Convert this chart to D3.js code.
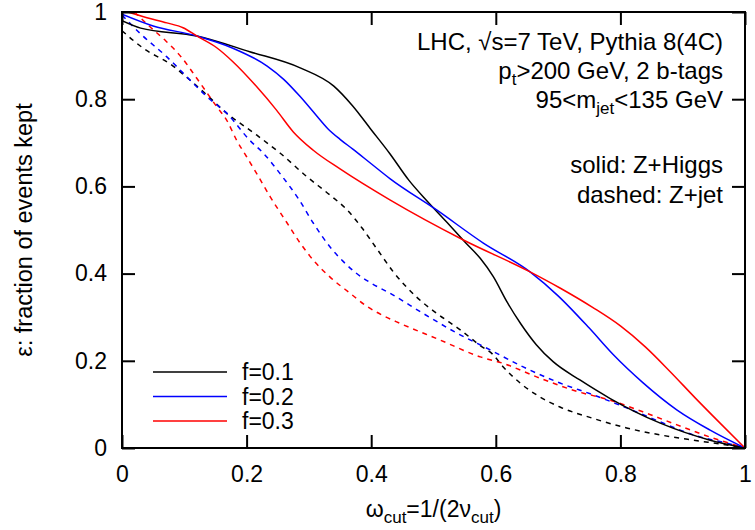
<!DOCTYPE html>
<html>
<head>
<meta charset="utf-8">
<script src="https://cdn.jsdelivr.net/npm/d3@7"></script>
<style>
  body { margin: 0; background: white; }
  text { font-family: "Liberation Sans", Arial, sans-serif; }
</style>
</head>
<body>
<div id="d3-container"></div>
<script>
// ticks
var xTicks = [0, 0.2, 0.4, 0.6, 0.8, 1]
var yTicks = [0, 0.2, 0.4, 0.6, 0.8, 1]

// legend labels
var fLabels = ['f=0.1', 'f=0.2', 'f=0.3']

// Z+Higgs (solid), [omega_cut, eps]
var higgsF01 = [[0,0.98],[0.03,0.963],[0.12,0.945],[0.205,0.909],[0.286,0.872],[0.34,0.83],[0.37,0.785],[0.40,0.73],[0.43,0.675],[0.46,0.615],[0.49,0.566],[0.52,0.52],[0.55,0.473],[0.575,0.435],[0.596,0.393],[0.618,0.335],[0.64,0.285],[0.665,0.237],[0.692,0.198],[0.735,0.156],[0.783,0.114],[0.864,0.057],[0.944,0.018],[1,0]]
var higgsF02 = [[0,0.995],[0.05,0.968],[0.12,0.945],[0.178,0.917],[0.233,0.876],[0.26,0.845],[0.286,0.806],[0.31,0.766],[0.33,0.733],[0.35,0.708],[0.37,0.686],[0.40,0.652],[0.43,0.618],[0.505,0.546],[0.58,0.47],[0.655,0.404],[0.70,0.349],[0.75,0.275],[0.788,0.215],[0.836,0.15],[0.891,0.087],[0.944,0.041],[1,0]]
var higgsF03 = [[0,1.004],[0.04,0.987],[0.072,0.975],[0.098,0.964],[0.12,0.945],[0.152,0.918],[0.178,0.886],[0.216,0.829],[0.248,0.775],[0.275,0.725],[0.307,0.683],[0.35,0.64],[0.43,0.569],[0.548,0.477],[0.655,0.404],[0.703,0.367],[0.756,0.322],[0.80,0.28],[0.84,0.232],[0.88,0.175],[0.92,0.115],[0.96,0.057],[1,0]]

// Z+jet (dashed)
var zjetF01 = [[0,0.957],[0.034,0.917],[0.08,0.878],[0.109,0.844],[0.136,0.81],[0.162,0.775],[0.216,0.718],[0.254,0.676],[0.297,0.622],[0.334,0.58],[0.36,0.548],[0.385,0.505],[0.41,0.455],[0.435,0.405],[0.473,0.346],[0.505,0.309],[0.543,0.271],[0.575,0.235],[0.595,0.215],[0.612,0.186],[0.639,0.149],[0.671,0.117],[0.703,0.094],[0.756,0.068],[0.81,0.046],[0.864,0.03],[0.917,0.018],[0.971,0.007],[1,0]]
var zjetF02 = [[0,0.993],[0.029,0.951],[0.072,0.897],[0.114,0.837],[0.136,0.806],[0.168,0.768],[0.205,0.706],[0.227,0.676],[0.256,0.625],[0.284,0.57],[0.307,0.516],[0.334,0.461],[0.355,0.428],[0.375,0.402],[0.40,0.378],[0.43,0.355],[0.483,0.309],[0.537,0.264],[0.591,0.225],[0.644,0.186],[0.703,0.149],[0.756,0.122],[0.81,0.092],[0.864,0.06],[0.917,0.03],[0.971,0.011],[1,0]]
var zjetF03 = [[0.02,1.0],[0.045,0.966],[0.07,0.934],[0.095,0.897],[0.12,0.848],[0.152,0.783],[0.168,0.752],[0.184,0.706],[0.2,0.668],[0.216,0.63],[0.238,0.576],[0.265,0.516],[0.286,0.47],[0.307,0.431],[0.334,0.392],[0.366,0.355],[0.393,0.325],[0.42,0.303],[0.446,0.286],[0.51,0.248],[0.575,0.209],[0.612,0.194],[0.671,0.16],[0.73,0.13],[0.783,0.11],[0.836,0.083],[0.891,0.053],[0.944,0.025],[1,0]]

var colors = ['black', '#0000ff', '#ff0000']

var width = 755
var height = 530
var margin = { top: 12, bottom: 82, left: 122, right: 10 }

var svg = d3.select('#d3-container')
    .append('svg')
    .attr('width', width)
    .attr('height', height)
    .style('background', 'white')

var x = d3.scaleLinear()
    .domain([0, 1])
    .range([margin.left, width - margin.right])

var y = d3.scaleLinear()
    .domain([0, 1])
    .range([height - margin.bottom, margin.top])

svg.append('clipPath')
    .attr('id', 'plotclip')
  .append('rect')
    .attr('x', margin.left)
    .attr('y', margin.top)
    .attr('width', width - margin.left - margin.right)
    .attr('height', height - margin.top - margin.bottom)

var line = d3.line()
    .x(d => x(d[0]))
    .y(d => y(d[1]))
    .curve(d3.curveMonotoneX)

var curves = [
  { data: zjetF01, color: colors[0], dashed: true },
  { data: zjetF02, color: colors[1], dashed: true },
  { data: zjetF03, color: colors[2], dashed: true },
  { data: higgsF01, color: colors[0], dashed: false },
  { data: higgsF02, color: colors[1], dashed: false },
  { data: higgsF03, color: colors[2], dashed: false }
]

svg.append('g')
    .attr('clip-path', 'url(#plotclip)')
  .selectAll('path')
  .data(curves)
  .join('path')
    .attr('d', d => line(d.data))
    .attr('fill', 'none')
    .attr('stroke', d => d.color)
    .attr('stroke-width', 1.5)
    .attr('stroke-dasharray', d => d.dashed ? '5,5' : null)

// axes, ticks pointing inwards on all four sides
function styleAxis(g){
    g.select('.domain').remove()
    g.selectAll('.tick line').attr('stroke', 'black').attr('stroke-width', 2)
    g.selectAll('.tick text').attr('font-size', '23px').attr('fill', 'black')
        .style('font-family', '"Liberation Sans", Arial, sans-serif')
}

var fmt = d => d === 0 || d === 1 ? String(d) : d.toFixed(1)

svg.append('g')
    .attr('transform', `translate(0, ${height - margin.bottom})`)
    .call(d3.axisBottom(x).tickValues(xTicks).tickSize(-13).tickPadding(18).tickFormat(fmt))
    .call(styleAxis)

svg.append('g')
    .attr('transform', `translate(0, ${margin.top})`)
    .call(d3.axisTop(x).tickValues(xTicks).tickSize(-13).tickFormat(''))
    .call(styleAxis)

svg.append('g')
    .attr('transform', `translate(${margin.left}, 0)`)
    .call(d3.axisLeft(y).tickValues(yTicks).tickSize(-13).tickPadding(15).tickFormat(fmt))
    .call(styleAxis)

svg.append('g')
    .attr('transform', `translate(${width - margin.right}, 0)`)
    .call(d3.axisRight(y).tickValues(yTicks).tickSize(-13).tickFormat(''))
    .call(styleAxis)

svg.append('rect')
    .attr('x', margin.left)
    .attr('y', margin.top)
    .attr('width', width - margin.left - margin.right)
    .attr('height', height - margin.top - margin.bottom)
    .attr('fill', 'none')
    .attr('stroke', 'black')
    .attr('stroke-width', 2)

// legend
var legend = svg.append('g')
    .selectAll('g')
    .data(fLabels)
    .join('g')
    .attr('transform', (d, i) => `translate(153, ${372 + i * 24.5})`)

legend.append('line')
    .attr('x1', 0).attr('x2', 74)
    .attr('stroke', (d, i) => colors[i])
    .attr('stroke-width', 1.5)

legend.append('text')
    .attr('x', 89)
    .attr('dy', '0.35em')
    .attr('font-size', '23px')
    .text(d => d)

// annotation, right aligned
var ann = svg.append('g').attr('font-size', '24px').attr('text-anchor', 'end')
var annX = width - margin.right - 22

ann.append('text').attr('x', annX).attr('y', 50).text('LHC, √s=7 TeV, Pythia 8(4C)')

var t2 = ann.append('text').attr('x', annX).attr('y', 79)
t2.append('tspan').text('p')
t2.append('tspan').attr('dy', 6).attr('font-size', '17px').text('t')
t2.append('tspan').attr('dy', -6).text('>200 GeV, 2 b-tags')

var t3 = ann.append('text').attr('x', annX).attr('y', 108)
t3.append('tspan').text('95<m')
t3.append('tspan').attr('dy', 6).attr('font-size', '17px').text('jet')
t3.append('tspan').attr('dy', -6).text('<135 GeV')

ann.append('text').attr('x', annX).attr('y', 173).text('solid: Z+Higgs')
ann.append('text').attr('x', annX).attr('y', 203).text('dashed: Z+jet')

// axis titles
var xt = svg.append('text')
    .attr('x', (margin.left + width - margin.right) / 2)
    .attr('y', 517)
    .attr('text-anchor', 'middle')
    .attr('font-size', '23px')
xt.append('tspan').text('ω')
xt.append('tspan').attr('dy', 6).attr('font-size', '17px').text('cut')
xt.append('tspan').attr('dy', -6).text('=1/(2ν')
xt.append('tspan').attr('dy', 6).attr('font-size', '17px').text('cut')
xt.append('tspan').attr('dy', -6).text(')')

svg.append('text')
    .attr('transform', 'rotate(-90)')
    .attr('x', -(margin.top + height - margin.bottom) / 2)
    .attr('y', 32)
    .attr('text-anchor', 'middle')
    .attr('font-size', '23.5px')
    .text('ε: fraction of events kept')
</script>
</body>
</html>
